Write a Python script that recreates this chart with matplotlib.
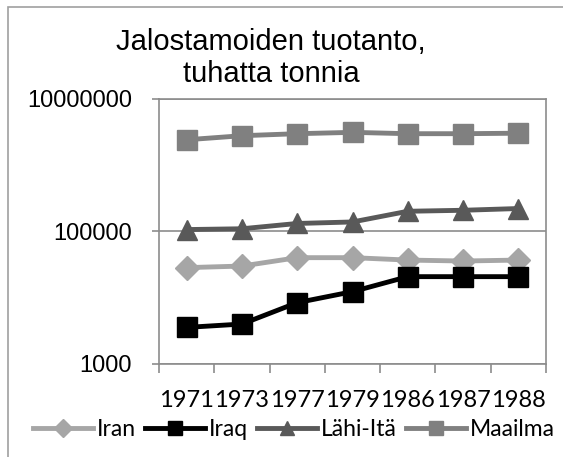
import matplotlib
matplotlib.use("Agg")
import matplotlib.pyplot as plt
from matplotlib.ticker import FixedLocator, NullLocator, FuncFormatter
from matplotlib.patches import Rectangle

# ── Data ───────────────────────────────────────────────────────
years = ["1971", "1973", "1977", "1979", "1986", "1987", "1988"]
iran = [28300, 29900, 40000, 40000, 36800, 35600, 36800]
iraq = [3560, 4000, 8400, 12300, 20700, 20700, 20700]
lahi_ita = [106000, 109000, 131000, 138000, 200000, 207000, 220000]
maailma = [2390000, 2750000, 2950000, 3090000, 2950000, 2950000, 3000000]

title = "Jalostamoiden tuotanto,\ntuhatta tonnia"

# ── Figure ─────────────────────────────────────────────────────
W, H = 563, 457
fig = plt.figure(figsize=(W / 100, H / 100), dpi=100)
fig.patches.append(Rectangle((8 / W, -0.1), 1.2, (H - 7) / H + 0.1,
                             transform=fig.transFigure, fill=False,
                             edgecolor="#A0A0A0", linewidth=1.2))

ax = fig.add_axes([159 / W, (H - 364) / H, (546 - 159) / W, (364 - 98.5) / H])

x = list(range(len(years)))
ax.plot(x, iran, color="#A6A6A6", lw=3.5, marker="D", ms=12.5, label="Iran", zorder=3)
ax.plot(x, iraq, color="#000000", lw=3.5, marker="s", ms=14, label="Iraq", zorder=4)
ax.plot(x, lahi_ita, color="#595959", lw=3.5, marker="^", ms=15, label="Lähi-Itä", zorder=3)
ax.plot(x, maailma, color="#808080", lw=3.5, marker="s", ms=14, label="Maailma", zorder=3)

ax.set_yscale("log")
ax.set_ylim(1000, 10000000)
ax.yaxis.set_major_locator(FixedLocator([1000, 100000, 10000000]))
ax.yaxis.set_minor_locator(NullLocator())
ax.yaxis.set_major_formatter(FuncFormatter(lambda v, p: f"{int(round(v))}"))
ax.grid(axis="y", color="#8C8C8C", lw=1.2)

ax.set_xlim(-0.5, len(years) - 0.5)
ax.set_xticks(x)
ax.set_xticklabels(years)
ax.set_xticks([i - 0.5 for i in range(len(years) + 1)], minor=True)
ax.tick_params(axis="x", which="major", length=0, pad=19,
               labelsize=17, labelfontfamily="Lato")
ax.tick_params(axis="x", which="minor", length=6.5, width=1.2, color="#8C8C8C")
ax.tick_params(axis="y", which="major", length=5, width=1.2, color="#8C8C8C",
               pad=14.5, labelsize=17)
for lab in ax.get_yticklabels():
    lab.set_fontfamily("Liberation Sans")

for s in ax.spines.values():
    s.set_color("#8C8C8C")
    s.set_linewidth(1.2)

fig.text(271 / W, 1 - 58 / H, title, ha="center", va="center",
         fontsize=21, family="Liberation Sans", linespacing=1.2)

fig.legend(loc="center", bbox_to_anchor=(294 / W, 1 - 430 / H), ncol=4,
           frameon=False, prop={"family": "Lato", "size": 16.5},
           handlelength=2.6, handletextpad=0.18, columnspacing=0.4,
           markerscale=0.7)

fig.savefig("out.png", dpi=100)
